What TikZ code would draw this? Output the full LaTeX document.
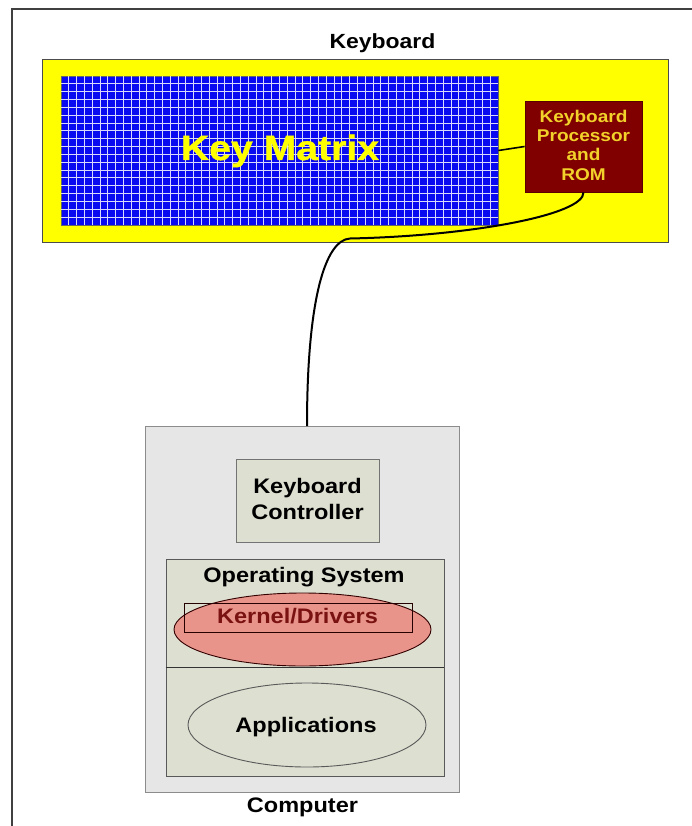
\documentclass[tikz,border=0pt]{standalone}
\usepackage{fontspec}
\setmainfont{Liberation Sans}[FakeStretch=1.12]
\newfontfamily\heavyfont{Liberation Sans}[FakeStretch=1.12, BoldFeatures={FakeBold=1.2}]
\usetikzlibrary{shapes.geometric}
\definecolor{kbyellow}{HTML}{FFFF00}
\definecolor{kbblue}{HTML}{0A0AF0}
\definecolor{kbgrid}{HTML}{D8D8FF}
\definecolor{kbred}{HTML}{800000}
\definecolor{kbgold}{HTML}{F2D22A}
\definecolor{compgray}{HTML}{E6E6E6}
\definecolor{compedge}{HTML}{8C8C8C}
\definecolor{beige}{HTML}{DDDFD0}
\definecolor{salmon}{HTML}{E8948A}
\definecolor{kerntext}{HTML}{7A1212}
\tikzset{
  box/.style={rectangle, draw, inner sep=0pt, line width=0.8pt},
  lab/.style={inner sep=0pt, anchor=base, font=\bfseries\fontsize{21}{25.5}\selectfont},
  oval/.style={ellipse, draw, inner sep=0pt, line width=0.9pt},
  gridline/.style={kbgrid, line width=1pt},
  cable/.style={line width=2pt, black},
}
\begin{document}
\begin{tikzpicture}[x=1pt,y=-1pt]
\useasboundingbox (0,0) rectangle (691,826);
\fill[white] (0,0) rectangle (691,826);
% outer frame
\draw[line width=1.6pt, black!75] (12,830) -- (12,9) -- (695,9);
% keyboard
\node[lab, font=\bfseries\fontsize{20.5}{24}\selectfont] (kbtitle) at (382.5,49) {Keyboard};
\node[box, fill=kbyellow, minimum width=626pt, minimum height=183pt, draw=black!70] (kb) at (355,150.5) {};
\node[box, fill=kbblue, minimum width=437pt, minimum height=149pt, draw=black!60] (km) at (279.5,150.5) {};
\foreach \i in {1,...,55} \draw[gridline] (61+\i*7.8036,76.4) -- (61+\i*7.8036,224.6);
\foreach \j in {1,...,18} \draw[gridline] (61.4,76+\j*7.842) -- (497.6,76+\j*7.842);
\node[lab, text=kbyellow, font=\heavyfont\bfseries\fontsize{35}{40}\selectfont] (kmtext) at (280,160) {Key Matrix};
\node[box, fill=kbred, draw=kbred!70!black, minimum width=117pt, minimum height=91pt] (proc) at (583.5,146.5) {};
\node[inner sep=0pt, align=center, text=kbgold, font=\bfseries\fontsize{17}{19.3}\selectfont] (proctext) at (583.5,145) {Keyboard\\Processor\\and\\ROM};
\draw[line width=1.6pt] (km.east) -- (proc.west);
% computer
\node[box, fill=compgray, draw=compedge, minimum width=314pt, minimum height=366pt] (comp) at (302,609) {};
\coordinate (plug) at (307,426);
\draw[cable] (proc.south) .. controls (584,215) and (470,236) .. (350,238.5)
  .. controls (325,240) and (307,300) .. (plug);
\node[box, fill=beige, draw=black!55, minimum width=143pt, minimum height=83pt] (kc) at (307.5,500.5) {};
\node[inner sep=0pt, align=center, font=\bfseries\fontsize{21}{25.5}\selectfont] (kctext) at (307.5,499) {Keyboard\\Controller};
\node[box, fill=beige, draw=black!65, minimum width=278pt, minimum height=217pt] (os) at (305,667.5) {};
\draw[line width=0.8pt, black!80] (os.west) -- (os.east);
\node[lab] (ostext) at (304,582) {Operating System};
\node[oval, fill=salmon, draw=black!60!kbred, minimum width=257pt, minimum height=73pt] (kern) at (302.5,629.5) {};
\node[box, draw=black!70!kbred, line width=0.6pt, minimum width=228pt, minimum height=29pt] (kernbox) at (298,617.5) {};
\node[lab, text=kerntext] (kerntext) at (297.5,623) {Kernel/Drivers};
\node[oval, fill=beige, draw=black!65, minimum width=238pt, minimum height=84pt] (app) at (307,725) {};
\node[lab] (apptext) at (306,732) {Applications};
\node[lab] (comptext) at (302.5,812) {Computer};
\end{tikzpicture}
\end{document}
